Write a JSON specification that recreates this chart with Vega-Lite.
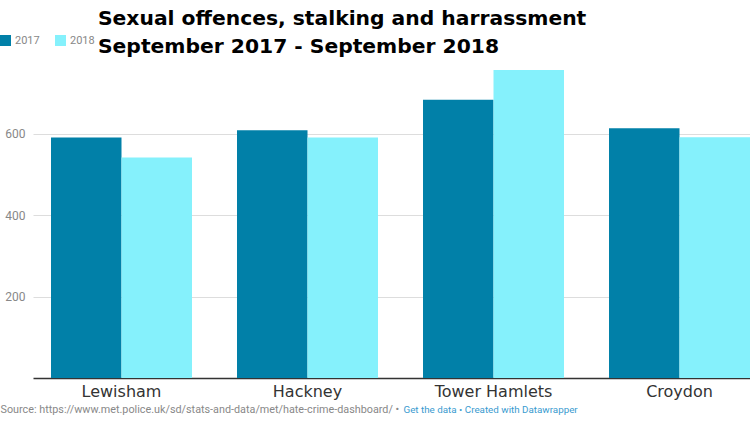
{
  "$schema": "https://vega.github.io/schema/vega-lite/v6.json",
  "autosize": "none",
  "width": 717,
  "height": 326,
  "padding": {"left": 33, "top": 52, "right": 0, "bottom": 44},
  "background": "white",
  "title": {
    "text": ["Sexual offences, stalking and harrassment", "September 2017 - September 2018"],
    "anchor": "start",
    "dx": 98,
    "dy": 26,
    "offset": 4,
    "font": "DejaVu Sans",
    "fontSize": 20.3,
    "fontWeight": "bold",
    "color": "#000000",
    "lineHeight": 28
  },
  "data": {
    "values": [
      {"borough": "Lewisham", "year": "2017", "count": 590},
      {"borough": "Lewisham", "year": "2018", "count": 541},
      {"borough": "Hackney", "year": "2017", "count": 608},
      {"borough": "Hackney", "year": "2018", "count": 590},
      {"borough": "Tower Hamlets", "year": "2017", "count": 683},
      {"borough": "Tower Hamlets", "year": "2018", "count": 756},
      {"borough": "Croydon", "year": "2017", "count": 613},
      {"borough": "Croydon", "year": "2018", "count": 591}
    ]
  },
  "mark": {"type": "bar"},
  "encoding": {
    "x": {
      "field": "borough",
      "type": "nominal",
      "sort": ["Lewisham", "Hackney", "Tower Hamlets", "Croydon"],
      "scale": {"paddingInner": 0.242, "paddingOuter": 0.0484, "align": 1},
      "axis": {
        "labelAngle": 0,
        "labelFont": "DejaVu Sans",
        "labelFontSize": 16,
        "labelColor": "#333333",
        "labelPadding": 5,
        "ticks": false,
        "domainColor": "#333333",
        "domainWidth": 1.5,
        "title": "Source: https://www.met.police.uk/sd/stats-and-data/met/hate-crime-dashboard/ •",
        "titleFont": "Roboto",
        "titleFontSize": 10.8,
        "titleFontWeight": "normal",
        "titleColor": "#888888",
        "titleAnchor": "start",
        "titleAlign": "left",
        "titleBaseline": "alphabetic",
        "titleX": -33,
        "titleY": 34
      }
    },
    "xOffset": {"field": "year", "type": "nominal"},
    "y": {
      "field": "count",
      "type": "quantitative",
      "scale": {"domain": [0, 800], "nice": false},
      "axis": {
        "values": [200, 400, 600],
        "domain": false,
        "ticks": false,
        "grid": true,
        "gridColor": "#dddddd",
        "labelFont": "Roboto",
        "labelFontSize": 12,
        "labelColor": "#888888",
        "labelPadding": 8,
        "title": "Get the data • Created with Datawrapper",
        "titleFont": "Roboto",
        "titleFontSize": 9.8,
        "titleFontWeight": "normal",
        "titleColor": "#3a9bd0",
        "titleAngle": 0,
        "titleAlign": "left",
        "titleBaseline": "alphabetic",
        "titleX": 370,
        "titleY": 360
      }
    },
    "color": {
      "field": "year",
      "type": "nominal",
      "scale": {"domain": ["2017", "2018"], "range": ["#0180a8", "#85f1fc"]},
      "legend": {
        "orient": "none",
        "legendX": -33,
        "legendY": -17,
        "direction": "horizontal",
        "title": null,
        "symbolType": "square",
        "symbolSize": 121,
        "symbolStrokeWidth": 0,
        "labelFont": "Roboto",
        "labelFontSize": 11,
        "labelColor": "#888888",
        "columnPadding": 15,
        "symbolOffset": 0
      }
    }
  },
  "config": {"view": {"stroke": null}}
}
